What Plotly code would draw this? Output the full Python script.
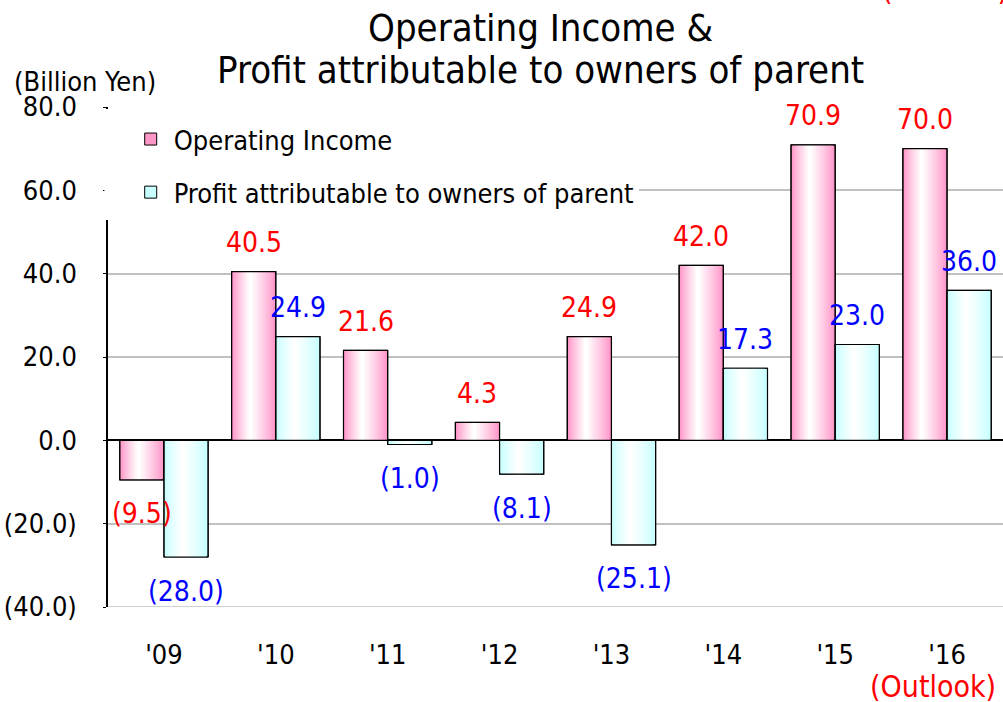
import plotly.graph_objects as go

years = ["'09", "'10", "'11", "'12", "'13", "'14", "'15", "'16"]
operating_income = [-9.5, 40.5, 21.6, 4.3, 24.9, 42.0, 70.9, 70.0]
profit_parent = [-28.0, 24.9, -1.0, -8.1, -25.1, 17.3, 23.0, 36.0]
y_tick_vals = [-40, -20, 0, 20, 40, 60, 80]
y_tick_text = ["(40.0)", "(20.0)", "0.0", "20.0", "40.0", "60.0", "80.0"]
series_names = ["Operating Income", "Profit attributable to owners of parent"]
title_lines = ["Operating Income &", "Profit attributable to owners of parent"]
unit_text = "(Billion Yen)"
outlook_text = "(Outlook)"

FONT = "DejaVu Sans Condensed"
BAR_W = 0.395
N_LAYERS = 12
PINK = (255, 150, 200)
CYAN = (200, 255, 255)


def mix(c, t):
    return "rgb(%d,%d,%d)" % tuple(round(ch + (255 - ch) * t) for ch in c)


def fmt(v):
    return "(%.1f)" % abs(v) if v < 0 else "%.1f" % v


fig = go.Figure()


def add_series(values, offset, edge, name, group, white_pos):
    center = offset + white_pos * BAR_W
    for k in range(N_LAYERS):
        frac = 1 - k / N_LAYERS
        left = white_pos * BAR_W * frac
        right = (1 - white_pos) * BAR_W * frac
        t = (k / (N_LAYERS - 1)) ** 0.9
        fig.add_trace(go.Bar(
            x=years, y=values, width=left + right, offset=center - left,
            marker=dict(color=mix(edge, t),
                        line=dict(width=1 if k == 0 else 0, color="black")),
            name=name, legendgroup=group, showlegend=(k == 0),
            hoverinfo="skip"))
    fig.add_trace(go.Bar(
        x=years, y=values, width=BAR_W, offset=offset,
        marker=dict(color="rgba(0,0,0,0)", line=dict(width=1.2, color="black")),
        name=name, legendgroup=group, showlegend=False, hoverinfo="skip"))


add_series(operating_income, -BAR_W, PINK, series_names[0], "a", 0.42)
add_series(profit_parent, 0.0, CYAN, series_names[1], "b", 0.42)

annotations = []
for vals, off, col in [(operating_income, -BAR_W, "#ff0000"), (profit_parent, 0.0, "#0000ff")]:
    for i, v in enumerate(vals):
        annotations.append(dict(
            x=i + off + BAR_W / 2, y=v, xref="x", yref="y", text=fmt(v),
            showarrow=False, yanchor="middle", yshift=29 if v >= 0 else -34,
            font=dict(family=FONT, size=28, color=col)))

for line, ypos in zip(title_lines, [1.158, 1.074]):
    annotations.append(dict(x=(540 - 108) / 895, y=ypos, xref="paper", yref="paper",
                            text=line, showarrow=False, xanchor="center", yanchor="middle",
                            font=dict(family=FONT, size=38, color="black")))
annotations.append(dict(x=-0.107, y=1.05, xref="paper", yref="paper", text=unit_text,
                        showarrow=False, xanchor="left", yanchor="middle",
                        font=dict(family=FONT, size=27, color="black")))
annotations.append(dict(x=0.922, y=-0.158, xref="paper", yref="paper", text=outlook_text,
                        showarrow=False, xanchor="center", yanchor="middle",
                        font=dict(family=FONT, size=30, color="#ff0000")))
annotations.append(dict(x=0.935, y=1.236, xref="paper", yref="paper", text=outlook_text,
                        showarrow=False, xanchor="center", yanchor="middle",
                        font=dict(family=FONT, size=30, color="#ff0000")))

fig.update_layout(
    width=1003, height=702,
    margin=dict(l=108, r=0, t=107, b=95, autoexpand=False),
    barmode="overlay",
    plot_bgcolor="white", paper_bgcolor="white",
    font=dict(family=FONT, size=27, color="black"),
    legend=dict(x=0.022, y=0.984, xanchor="left", yanchor="top", bgcolor="white",
                itemwidth=36, tracegroupgap=15,
                font=dict(family=FONT, size=27, color="black")),
    annotations=annotations,
    shapes=[
        dict(type="line", xref="paper", yref="y", x0=0, x1=1, y0=-40, y1=-40,
             line=dict(color="#c0c0c0", width=1.5), layer="below"),
        dict(type="rect", xref="paper", yref="paper", x0=-0.004, x1=0.03,
             y0=0.774, y1=0.996, fillcolor="white", line=dict(width=0), layer="above"),
    ],
    xaxis=dict(type="category", range=[-0.5, 7.5], showline=False, showgrid=False,
               automargin=False, ticks="", ticklabelstandoff=29,
               tickfont=dict(family=FONT, size=27, color="black")),
    yaxis=dict(range=[-40, 80], tickvals=y_tick_vals, ticktext=y_tick_text,
               automargin=False,
               showgrid=True, gridcolor="#c0c0c0", gridwidth=1.5,
               zeroline=True, zerolinecolor="black", zerolinewidth=1.5,
               showline=True, linecolor="black", linewidth=1.5,
               ticks="outside", ticklen=3, tickcolor="black",
               ticklabelstandoff=21,
               tickfont=dict(family=FONT, size=27, color="black")),
)

fig.write_html("out.html", config={"displayModeBar": False},
               post_script="document.body.style.margin='0';")
